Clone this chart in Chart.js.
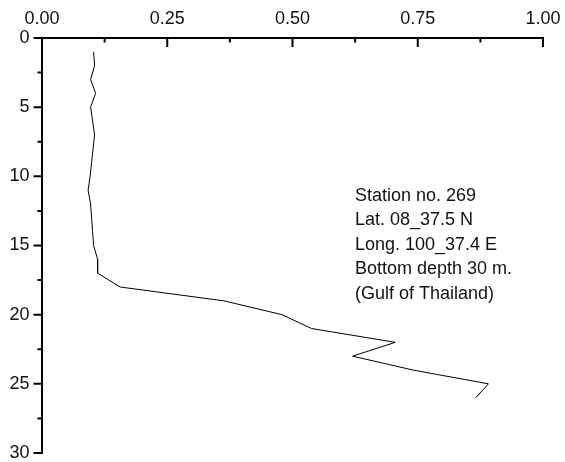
<!DOCTYPE html>
<html>
<head>
<meta charset="utf-8">
<script src="https://cdn.jsdelivr.net/npm/chart.js@4/dist/chart.umd.min.js"></script>
<style>
  body { margin: 0; background: #fff; }
  canvas { display: block; }
</style>
</head>
<body>
<canvas id="chart" width="565" height="462"></canvas>
<script>
const depths = [1, 2, 3, 4, 5, 6, 7, 8, 9, 10, 11, 12, 13, 14, 15, 16, 17, 18, 19, 20, 21, 22, 23, 24, 25, 26];
const values = [0.103, 0.105, 0.097, 0.107, 0.097, 0.101, 0.105, 0.102, 0.099, 0.096, 0.092, 0.097, 0.099, 0.101,
    0.103, 0.111, 0.111, 0.156, 0.363, 0.479, 0.538, 0.705, 0.620, 0.740, 0.891, 0.866];

const xTickValues = [0, 0.25, 0.5, 0.75, 1];
const yTickValues = [0, 5, 10, 15, 20, 25, 30];

const stationLines = [
    "Station no. 269",
    "Lat. 08_37.5 N",
    "Long. 100_37.4 E",
    "Bottom depth 30 m.",
    "(Gulf of Thailand)"
];

const FONT = "'Liberation Sans', Arial, sans-serif";

// major + minor tick marks: x ticks hang into the plot, y ticks point outward
const tickMarks = {
    id: "tickMarks",
    afterDraw(chart) {
        const ctx = chart.ctx;
        const x = chart.scales.x;
        const y = chart.scales.y;
        const top = y.getPixelForValue(0);
        const left = x.getPixelForValue(0);
        ctx.save();
        ctx.strokeStyle = "#000";
        ctx.lineWidth = 2;
        ctx.beginPath();
        for (let i = 0; i < xTickValues.length; i++) {
            const px = x.getPixelForValue(xTickValues[i]);
            ctx.moveTo(px, top);
            ctx.lineTo(px, top + 9);
            if (i < xTickValues.length - 1) {
                const mx = x.getPixelForValue((xTickValues[i] + xTickValues[i + 1]) / 2);
                ctx.moveTo(mx, top);
                ctx.lineTo(mx, top + 4.5);
            }
        }
        for (let i = 0; i < yTickValues.length; i++) {
            const py = y.getPixelForValue(yTickValues[i]);
            ctx.moveTo(left - 8.5, py);
            ctx.lineTo(left, py);
            if (i < yTickValues.length - 1) {
                const my = y.getPixelForValue((yTickValues[i] + yTickValues[i + 1]) / 2);
                ctx.moveTo(left - 4.5, my);
                ctx.lineTo(left, my);
            }
        }
        ctx.stroke();

        ctx.fillStyle = "#111";
        ctx.font = "18px " + FONT;
        ctx.textBaseline = "middle";
        stationLines.forEach((t, i) => ctx.fillText(t, 355, 196 + i * 24.5));
        ctx.restore();
    }
};

new Chart(document.getElementById("chart"), {
    type: "scatter",
    data: {
        datasets: [{
            data: depths.map((d, i) => ({ x: values[i], y: d })),
            showLine: true,
            borderColor: "#000",
            borderWidth: 1,
            pointRadius: 0,
            tension: 0
        }]
    },
    options: {
        responsive: false,
        animation: false,
        layout: { padding: { left: 0, top: 0, right: 22, bottom: 9 } },
        plugins: { legend: { display: false }, tooltip: { enabled: false } },
        scales: {
            x: {
                type: "linear",
                position: "top",
                min: 0,
                max: 1,
                afterBuildTicks: s => { s.ticks = xTickValues.map(v => ({ value: v })); },
                afterFit: s => { s.height = 38; s.paddingLeft = 0; s.paddingRight = 0; },
                grid: { display: false, drawTicks: false },
                border: { display: true, color: "#000", width: 2 },
                ticks: {
                    color: "#111",
                    font: { family: FONT, size: 18 },
                    padding: 8,
                    maxRotation: 0,
                    callback: v => Number(v).toFixed(2)
                }
            },
            y: {
                type: "linear",
                reverse: true,
                min: 0,
                max: 30,
                afterBuildTicks: s => { s.ticks = yTickValues.map(v => ({ value: v })); },
                afterFit: s => { s.width = 42; s.paddingTop = 0; s.paddingBottom = 0; },
                grid: { display: false, drawTicks: false },
                border: { display: true, color: "#000", width: 2 },
                ticks: {
                    color: "#111",
                    font: { family: FONT, size: 18 },
                    padding: 12.5
                }
            }
        }
    },
    plugins: [tickMarks]
});
</script>
</body>
</html>
